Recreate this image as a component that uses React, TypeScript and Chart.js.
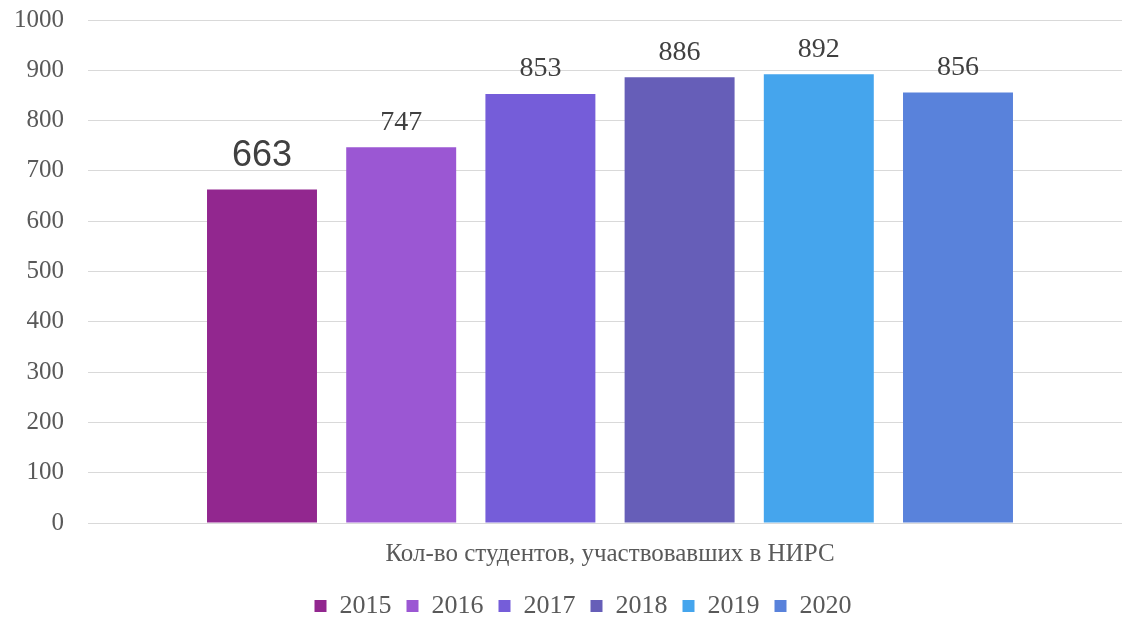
import React, { useEffect, useRef } from "react";
import { Chart, registerables } from "chart.js";

Chart.register(...registerables);

const categories = ["Кол-во студентов, участвовавших в НИРС"];
const years = ["2015", "2016", "2017", "2018", "2019", "2020"];
const values = [663, 747, 853, 886, 892, 856];
const colors = ["#92278F", "#9B57D3", "#755DD9", "#665EB8", "#45A5ED", "#5982DB"];
const yTicks = [0, 100, 200, 300, 400, 500, 600, 700, 800, 900, 1000];

const SERIF = "'Liberation Serif', serif";
const TEXT = "#595959";

const labelPlugin = {
  id: "barLabels",
  afterLayout(chart: any) {
    if (chart.legend) {
      chart.legend.left += 17;
      chart.legend.right += 17;
    }
  },
  afterDatasetsDraw(chart: any) {
    const ctx = chart.ctx;
    ctx.save();
    ctx.textAlign = "center";
    ctx.textBaseline = "middle";
    chart.data.datasets.forEach((ds: any, i: number) => {
      const meta = chart.getDatasetMeta(i);
      const el = meta.data[0];
      if (!el) return;
      ctx.fillStyle = "#404040";
      if (i === 0) {
        ctx.font = "36px 'Liberation Sans', sans-serif";
        ctx.fillText(String(ds.data[0]), el.x, el.y - 33);
      } else {
        ctx.font = "28px " + SERIF;
        ctx.fillText(String(ds.data[0]), el.x, el.y - 25);
      }
    });
    ctx.restore();
  },
};

export default function App() {
  const ref = useRef<HTMLCanvasElement>(null);
  useEffect(() => {
    if (!ref.current) return;
    const chart = new Chart(ref.current, {
      type: "bar",
      data: {
        labels: categories,
        datasets: years.map((y, i) => ({
          label: y,
          data: [values[i]],
          backgroundColor: colors[i],
          barPercentage: 0.79,
          categoryPercentage: 0.8,
        })),
      },
      options: {
        animation: false,
        responsive: true,
        maintainAspectRatio: false,
        layout: { padding: { top: 20, right: 0, bottom: 0, left: 0 } },
        plugins: {
          legend: {
            position: "bottom",
            labels: {
              font: { family: SERIF, size: 26 },
              color: TEXT,
              boxWidth: 12,
              boxHeight: 12,
              padding: 15,
            },
          },
          tooltip: { enabled: false },
        },
        scales: {
          x: {
            grid: { display: false, drawTicks: false },
            border: { display: false },
            ticks: { font: { family: SERIF, size: 25 }, color: TEXT, padding: 16 },
            afterFit(axis: any) {
              axis.height = 55;
            },
          },
          y: {
            min: 0,
            max: 1000,
            afterBuildTicks(axis: any) {
              axis.ticks = yTicks.map((v) => ({ value: v }));
            },
            grid: { color: "#d9d9d9", lineWidth: 1, drawTicks: false },
            border: { display: false },
            ticks: {
              font: { family: SERIF, size: 25 },
              color: TEXT,
              padding: 24,
              callback: (v: any) => String(v),
            },
            afterFit(axis: any) {
              axis.width = 88;
              axis.paddingTop = 0;
              axis.paddingBottom = 0;
            },
          },
        },
      },
      plugins: [labelPlugin],
    });
    return () => chart.destroy();
  }, []);
  return (
    <div style={{ position: "fixed", left: 0, top: 0, width: 1122, height: 618, background: "#fff", overflow: "hidden" }}>
      <div style={{ position: "relative", width: 1132, height: 629 }}>
        <canvas ref={ref} />
      </div>
    </div>
  );
}
